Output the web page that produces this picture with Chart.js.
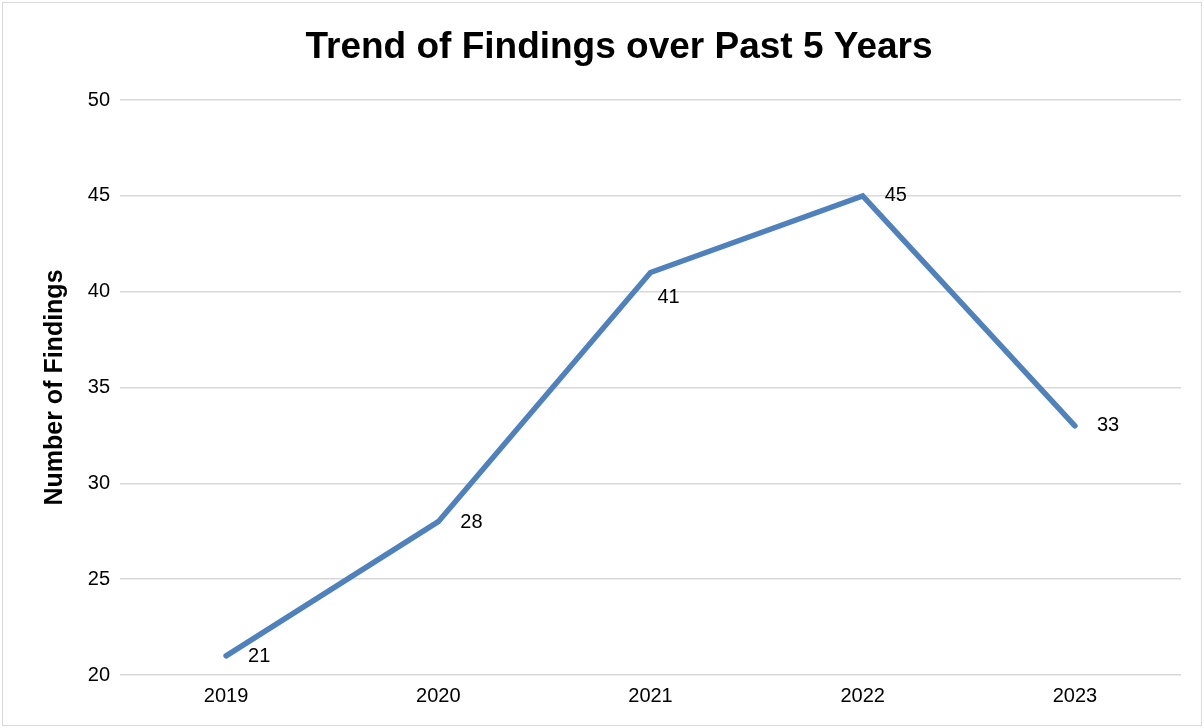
<!DOCTYPE html>
<html>
<head>
<meta charset="utf-8">
<script src="https://cdn.jsdelivr.net/npm/chart.js@4/dist/chart.umd.min.js"></script>
<style>
  html, body { margin: 0; padding: 0; background: #fff; }
  #wrap { position: relative; width: 1204px; height: 728px; }
  #frame { position: absolute; left: 2px; top: 2px; width: 1198px; height: 722px; border: 1px solid #d9d9d9; pointer-events: none; }
</style>
</head>
<body>
<div id="wrap">
  <canvas id="trendChart" width="1204" height="728"></canvas>
  <div id="frame"></div>
</div>
<script>
const years = ['2019', '2020', '2021', '2022', '2023'];
const findings = [21, 28, 41, 45, 33];
const yTicks = [20, 25, 30, 35, 40, 45, 50];
const chartTitle = 'Trend of Findings over Past 5 Years';

// label offsets from each point (px), like Excel's manual label placement
const labelOffsets = [[22, 1], [22, 1], [7, 25], [22, 0], [22, 0]];

const FONT = '"Liberation Sans", Arial, sans-serif';

// Excel centres the title a bit left of the plot, so draw it by hand
const titleText = {
  id: 'titleText',
  afterDraw(chart) {
    const ctx = chart.ctx;
    ctx.save();
    ctx.font = 'bold 37px ' + FONT;
    ctx.fillStyle = '#000';
    ctx.textBaseline = 'alphabetic';
    ctx.textAlign = 'center';
    ctx.fillText(chartTitle, 619, 58);
    ctx.restore();
  }
};

const valueLabels = {
  id: 'valueLabels',
  afterDatasetsDraw(chart) {
    const ctx = chart.ctx;
    const meta = chart.getDatasetMeta(0);
    ctx.save();
    ctx.font = '20px ' + FONT;
    ctx.fillStyle = '#000';
    ctx.textAlign = 'left';
    ctx.textBaseline = 'middle';
    meta.data.forEach((pt, i) => {
      const [dx, dy] = labelOffsets[i];
      ctx.fillText(String(findings[i]), pt.x + dx, pt.y + dy);
    });
    ctx.restore();
  }
};

new Chart(document.getElementById('trendChart').getContext('2d'), {
  type: 'line',
  data: {
    labels: years,
    datasets: [{
      data: findings,
      borderColor: '#4f81bd',
      borderWidth: 5.5,
      borderCapStyle: 'round',
      pointRadius: 0,
      tension: 0,
      fill: false
    }]
  },
  options: {
    responsive: false,
    animation: false,
    devicePixelRatio: 1,
    layout: { padding: { left: 0, right: 23, top: 100, bottom: 0 } },
    plugins: {
      legend: { display: false },
      tooltip: { enabled: false },
      title: { display: false }
    },
    scales: {
      x: {
        offset: true,
        grid: { display: false, drawTicks: false },
        border: { display: false },
        ticks: { color: '#000', font: { family: FONT, size: 20 }, padding: 9 },
        afterFit(scale) { scale.height = 53; }
      },
      y: {
        min: 20,
        max: 50,
        afterBuildTicks(scale) { scale.ticks = yTicks.map(v => ({ value: v })); },
        grid: { color: '#d9d9d9', lineWidth: 1.5, drawTicks: false },
        border: { display: false },
        ticks: { color: '#000', font: { family: FONT, size: 20 }, padding: 10 },
        title: {
          display: true,
          text: 'Number of Findings',
          color: '#000',
          font: { family: FONT, size: 25, weight: 'bold' },
          padding: { top: 40, bottom: 0 }
        },
        afterFit(scale) { scale.width = 120; }
      }
    }
  },
  plugins: [valueLabels, titleText]
});
</script>
</body>
</html>
